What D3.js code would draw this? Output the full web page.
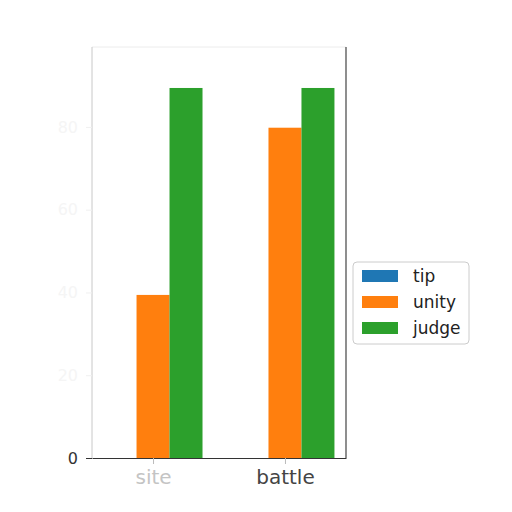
<!DOCTYPE html>
<html>
<head>
<meta charset="utf-8" />
<title>Grouped bars</title>
<script src="https://cdn.jsdelivr.net/npm/d3@7"></script>
<style>
  html, body { margin: 0; padding: 0; background: #fff; }
  text { font-family: "DejaVu Sans", sans-serif; }
</style>
</head>
<body>
<script>
var categories = ['site', 'battle'];
var seriesNames = ['tip', 'unity', 'judge'];
var tipValues = [0, 0];
var unityValues = [39.4, 79.8];
var judgeValues = [89.4, 89.4];
var yTicks = [0, 20, 40, 60, 80];
var colors = ['#1f77b4', '#ff7f0e', '#2ca02c'];

var series = [tipValues, unityValues, judgeValues];
var width = 512, height = 512;
var svg = d3.select('body').append('svg').attr('width', width).attr('height', height);

var mLeft = 92, mRight = 346, mTop = 47, mBottom = 458;
var barW = 0.25;

// bars go from -0.375 to 1.375, plus matplotlib-ish 5% margin
var x = d3.scaleLinear().domain([-0.4625, 1.4625]).range([mLeft, mRight]);
var y = d3.scaleLinear().domain([0, 99.3]).range([mBottom, mTop]);

// bars
series.forEach(function(vals, s) {
    svg.append('g').selectAll('rect').data(vals).enter().append('rect')
        .attr('x', function(d, i) { return x(i + (s - 1.5) * barW); })
        .attr('width', x(barW) - x(0))
        .attr('y', function(d) { return y(d); })
        .attr('height', function(d) { return y(0) - y(d); })
        .attr('fill', colors[s]);
});

// spines
svg.append('line').attr('x1', mLeft).attr('x2', mRight).attr('y1', mTop).attr('y2', mTop)
    .attr('stroke', '#ececec').attr('stroke-width', 1);
svg.append('line').attr('x1', mLeft).attr('x2', mLeft).attr('y1', mTop).attr('y2', mBottom)
    .attr('stroke', '#c8c8c8').attr('stroke-width', 1);
svg.append('line').attr('x1', mRight).attr('x2', mRight).attr('y1', mTop).attr('y2', mBottom)
    .attr('stroke', '#444').attr('stroke-width', 1.2);

// y axis (labels are washed out in the picture except 0)
var yAxis = svg.append('g').attr('transform', 'translate(' + mLeft + ',0)')
    .call(d3.axisLeft(y).tickValues(yTicks).tickSize(6).tickPadding(8));
yAxis.select('.domain').remove();
yAxis.selectAll('.tick line').attr('stroke', function(d) { return d === 0 ? '#333' : '#f0f0f0'; });
yAxis.selectAll('.tick text').style('font-size', '16px')
    .attr('fill', function(d) { return d === 0 ? '#333' : '#f5f5f5'; });

// x axis
var xAxis = svg.append('g').attr('transform', 'translate(0,' + mBottom + ')')
    .call(d3.axisBottom(x).tickValues([0, 1]).tickSize(6).tickSizeOuter(0).tickPadding(6)
        .tickFormat(function(d) { return categories[d]; }));
xAxis.select('.domain').attr('stroke', '#333').attr('stroke-width', 1.2);
xAxis.selectAll('.tick line').attr('stroke', '#bbb');
xAxis.selectAll('.tick text').style('font-size', '20px')
    .attr('fill', function(d) { return d === 0 ? '#c4c4c4' : '#444'; });

// legend
var lg = svg.append('g').attr('transform', 'translate(353,262)');
lg.append('rect').attr('width', 116).attr('height', 82).attr('rx', 4)
    .attr('fill', '#fff').attr('stroke', '#cccccc');
var item = lg.selectAll('.item').data(seriesNames).enter().append('g')
    .attr('class', 'item')
    .attr('transform', function(d, i) { return 'translate(9,' + (8 + i * 26) + ')'; });
item.append('rect').attr('width', 36).attr('height', 12)
    .attr('fill', function(d, i) { return colors[i]; });
item.append('text').attr('x', 51).attr('y', 6).attr('dy', '0.35em')
    .style('font-size', '17px').attr('fill', '#222')
    .text(function(d) { return d; });
</script>
</body>
</html>
